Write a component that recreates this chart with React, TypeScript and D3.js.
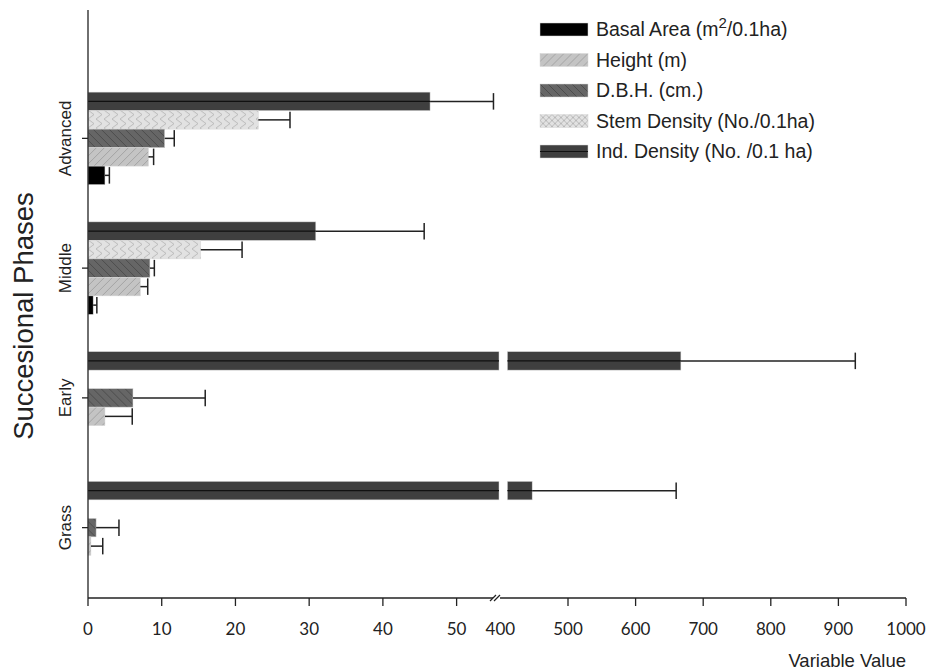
import React from 'react';
import * as d3 from 'd3';

const phases = ['Advanced', 'Middle', 'Early', 'Grass'];
const seriesKeys = ['ind', 'stem', 'dbh', 'height', 'basal'];

const basal = [2.3, 0.7, 0, 0];
const basalErr = [0.6, 0.5, 0, 0];
const heightM = [8.2, 7.1, 2.3, 0.4];
const heightErr = [0.7, 1.0, 3.7, 1.6];
const dbh = [10.4, 8.4, 6.1, 1.1];
const dbhErr = [1.3, 0.6, 9.8, 3.1];
const stem = [23.1, 15.3, 0, 0];
const stemErr = [4.3, 5.6, 0, 0];
const ind = [46.4, 30.9, 667, 447];
const indErr = [8.6, 14.7, 258, 213];

const leftTicks = [0, 10, 20, 30, 40, 50];
const rightTicks = [400, 500, 600, 700, 800, 900, 1000];

const values: Record<string, number[]> = { ind, stem, dbh, height: heightM, basal };
const errors: Record<string, number[]> = { ind: indErr, stem: stemErr, dbh: dbhErr, height: heightErr, basal: basalErr };

const BREAK = 55.75;
const xLeft = d3.scaleLinear().domain([0, BREAK]).range([88, 499]);
const xRight = d3.scaleLinear().domain([400, 1000]).range([500.4, 906]);
const xv = (v: number) => (v <= BREAK ? xLeft(v) : xRight(v));

const y = d3.scaleBand().domain(phases).range([73.5, 592.5]).padding(0);
const inner = d3.scaleBand().domain(seriesKeys).range([0, 92.5]).padding(0);
const groupOffset = (y.bandwidth() - 92.5) / 2;

const fills: Record<string, string> = {
  basal: '#000000',
  height: 'url(#hatchHeight)',
  dbh: 'url(#hatchDbh)',
  stem: 'url(#hatchStem)',
  ind: '#3f3f3f',
};
const legendFills: Record<string, string> = { ...fills, stem: 'url(#crossStem)' };

const legendItems = [
  { key: 'basal', label: 'Basal Area (m', sup: '2', tail: '/0.1ha)' },
  { key: 'height', label: 'Height (m)' },
  { key: 'dbh', label: 'D.B.H. (cm.)' },
  { key: 'stem', label: 'Stem Density (No./0.1ha)' },
  { key: 'ind', label: 'Ind. Density (No. /0.1 ha)' },
];

const axisY = 598;
const sans = '"Liberation Sans", Arial, sans-serif';

export default function App() {
  const bh = inner.bandwidth();
  return (
    <svg width={929} height={670} style={{ position: 'absolute', left: 0, top: 0, background: '#fff' }}>
      <defs>
        <pattern id="hatchHeight" patternUnits="userSpaceOnUse" width={8} height={8}>
          <rect width={8} height={8} fill="#c4c4c4" />
          <path d="M0,8 L8,0" stroke="#9a9a9a" strokeWidth={0.8} />
        </pattern>
        <pattern id="hatchDbh" patternUnits="userSpaceOnUse" width={8} height={8}>
          <rect width={8} height={8} fill="#666666" />
          <path d="M0,0 L8,8" stroke="#4a4a4a" strokeWidth={0.9} />
        </pattern>
        <pattern id="hatchStem" patternUnits="userSpaceOnUse" width={8} height={9}>
          <rect width={8} height={9} fill="#e2e2e2" />
          <path d="M0,0 L6,4.5 L0,9" stroke="#b0b0b0" strokeWidth={0.8} fill="none" />
        </pattern>
        <pattern id="crossStem" patternUnits="userSpaceOnUse" width={6} height={6}>
          <rect width={6} height={6} fill="#e2e2e2" />
          <path d="M0,0 L6,6 M6,0 L0,6" stroke="#a8a8a8" strokeWidth={0.7} />
        </pattern>
      </defs>

      {phases.map((p, i) => (
        <g key={p} transform={`translate(0,${(y(p) ?? 0) + groupOffset})`}>
          {seriesKeys.map((k) => {
            const v = values[k][i];
            const e = errors[k][i];
            const by = inner(k) ?? 0;
            const x0 = xLeft(0);
            const pieces =
              v > BREAK
                ? [
                    [x0, xLeft(BREAK)],
                    [xRight(400) + 7, xRight(v)],
                  ]
                : [[x0, xv(v)]];
            const xe = xv(v + e);
            return (
              <g key={k}>
                {pieces.map(([a, b], j) => (
                  <g key={j}>
                    <rect x={a} y={by} width={Math.max(0, b - a)} height={bh} fill={fills[k]} stroke="#d8d8d8" strokeWidth={0.5} />
                    {k === 'ind' && (
                      <line x1={a} x2={b} y1={by + bh / 2} y2={by + bh / 2} stroke="#111" strokeWidth={1.2} />
                    )}
                  </g>
                ))}
                {e > 0 && (
                  <g stroke="#222" strokeWidth={1.5}>
                    <line x1={xv(v)} x2={xe} y1={by + bh / 2} y2={by + bh / 2} />
                    <line x1={xe} x2={xe} y1={by + 1} y2={by + bh - 1} />
                  </g>
                )}
              </g>
            );
          })}
        </g>
      ))}

      {/* y axis */}
      <line x1={88} x2={88} y1={10} y2={axisY} stroke="#222" strokeWidth={1.3} />
      {phases.map((p) => {
        const cy = (y(p) ?? 0) + y.bandwidth() / 2;
        return (
          <g key={p}>
            <line x1={82} x2={88} y1={cy} y2={cy} stroke="#222" strokeWidth={1.3} />
            <text
              transform={`translate(71,${cy}) rotate(-90)`}
              textAnchor="middle"
              fontFamily={sans}
              fontSize={17}
              fill="#222"
            >
              {p}
            </text>
          </g>
        );
      })}
      <text
        transform="translate(33,316) rotate(-90)"
        textAnchor="middle"
        fontFamily={sans}
        fontSize={27.5}
        fill="#222"
      >
        Succesional Phases
      </text>

      {/* x axis with break */}
      <line x1={88} x2={493} y1={axisY} y2={axisY} stroke="#222" strokeWidth={1.3} />
      <line x1={500} x2={906} y1={axisY} y2={axisY} stroke="#222" strokeWidth={1.3} />
      <g stroke="#222" strokeWidth={1.2}>
        <line x1={490} x2={496} y1={axisY + 3} y2={axisY - 3} />
        <line x1={494} x2={500} y1={axisY + 3} y2={axisY - 3} />
      </g>
      {leftTicks.map((t) => (
        <g key={`l${t}`} transform={`translate(${xLeft(t)},${axisY})`}>
          <line y2={8} stroke="#222" strokeWidth={1.3} />
          <text y={37} textAnchor="middle" fontFamily="Lato, sans-serif" fontSize={17} fill="#222">
            {t}
          </text>
        </g>
      ))}
      {rightTicks.map((t) => (
        <g key={`r${t}`} transform={`translate(${xRight(t)},${axisY})`}>
          {t !== 400 && <line y2={8} stroke="#222" strokeWidth={1.3} />}
          <text y={37} textAnchor="middle" fontFamily="Lato, sans-serif" fontSize={17} fill="#222">
            {t}
          </text>
        </g>
      ))}
      <text x={906} y={667} textAnchor="end" fontFamily={sans} fontSize={18.5} fill="#222">
        Variable Value
      </text>

      {/* legend */}
      {legendItems.map((it, i) => {
        const ly = 23 + i * 30.5;
        return (
          <g key={it.key} transform={`translate(540,${ly})`}>
            <rect width={48} height={13} fill={legendFills[it.key]} stroke="#d8d8d8" strokeWidth={0.5} />
            {it.key === 'ind' && <line x1={0} x2={48} y1={6.5} y2={6.5} stroke="#111" strokeWidth={1.2} />}
            <text x={56} y={13} fontFamily={sans} fontSize={19.5} fill="#222">
              {it.label}
              {it.sup && (
                <tspan dy={-8} fontSize={15}>
                  {it.sup}
                </tspan>
              )}
              {it.tail && <tspan dy={8}>{it.tail}</tspan>}
            </text>
          </g>
        );
      })}
    </svg>
  );
}
